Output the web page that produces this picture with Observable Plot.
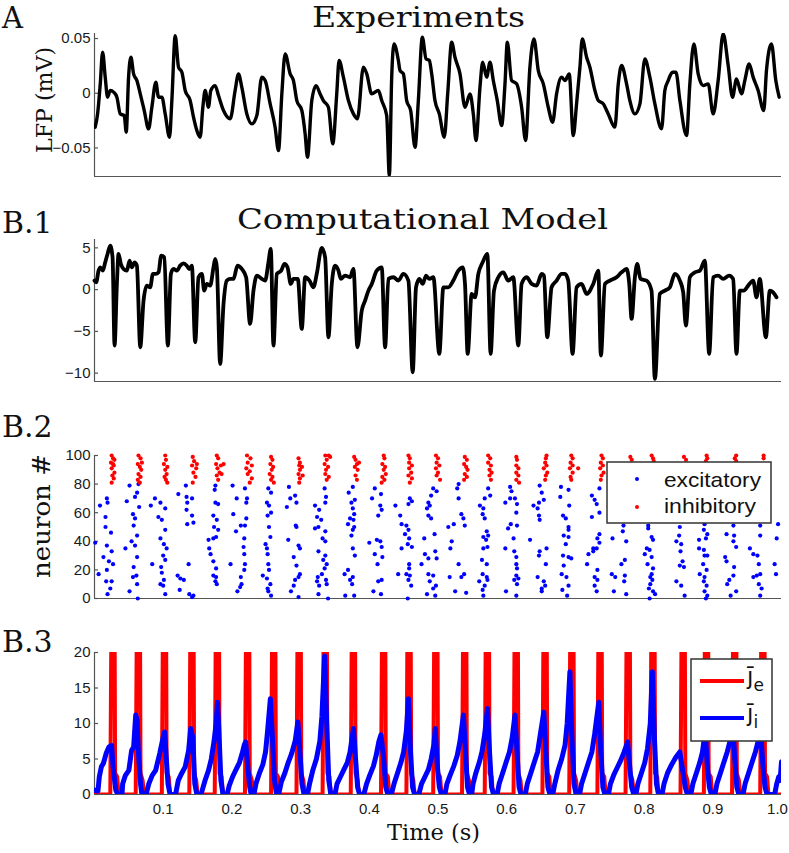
<!DOCTYPE html>
<html><head><meta charset="utf-8">
<script src="https://cdn.jsdelivr.net/npm/d3@7"></script>
<script src="https://cdn.jsdelivr.net/npm/@observablehq/plot@0.6"></script>
<style>
html,body{margin:0;padding:0;background:#fff;}
#fig{position:relative;width:789px;height:853px;overflow:hidden;background:#fff;}
#fig svg{display:block;}
.pane{position:absolute;left:0;}
#overlay{position:absolute;left:0;top:0;z-index:10;pointer-events:none;}
</style></head>
<body><div id="fig"></div>
<script>
// ---------------- DATA ----------------
// Panel A: experimental LFP (time s, mV)
const lfpTrace = [[0.001,-0.031],[0.0045,-0.019],[0.0084,0.0086],[0.0118,0.0375],[0.0156,0.0147],[0.019,-0.0036],[0.0229,0.0025],[0.0278,0.001],[0.0326,-0.0036],[0.0375,-0.0189],[0.0433,-0.0204],[0.0462,-0.0356],[0.0496,0.0147],[0.053,0.0329],[0.0569,0.0177],[0.0617,0.0116],[0.0666,-0.0006],[0.0724,-0.0158],[0.0787,-0.0326],[0.0835,-0.0128],[0.0893,0.0101],[0.0932,-0.0036],[0.0981,-0.0036],[0.1029,-0.0189],[0.1092,-0.0402],[0.1126,-0.0067],[0.1175,0.0527],[0.1223,0.0238],[0.1272,0.0192],[0.132,0.0025],[0.1393,-0.0067],[0.1441,-0.0219],[0.149,-0.0341],[0.1538,-0.0402],[0.1577,-0.0128],[0.1611,0.0025],[0.1659,-0.0128],[0.1693,0.0025],[0.1756,0.007],[0.1805,-0.0021],[0.1878,-0.0158],[0.1975,-0.0234],[0.2047,0.0025],[0.2096,0.0177],[0.2144,0.0055],[0.2217,-0.0189],[0.229,-0.028],[0.2363,-0.0204],[0.2435,0.0147],[0.2484,0.0116],[0.2557,-0.0097],[0.2629,-0.031],[0.2678,-0.0524],[0.2727,-0.0006],[0.2775,0.036],[0.2848,0.0177],[0.2896,0.0116],[0.2945,-0.0067],[0.3018,-0.0158],[0.3066,-0.0371],[0.31,-0.0585],[0.3163,-0.0067],[0.3226,0.007],[0.3284,-0.0006],[0.3332,-0.0067],[0.3405,-0.0128],[0.3468,-0.0463],[0.3526,-0.0006],[0.356,0.0299],[0.3623,0.0147],[0.3696,-0.0067],[0.3769,-0.0189],[0.3827,-0.0234],[0.3914,0.0238],[0.3963,0.0177],[0.4035,-0.0006],[0.4132,0.0025],[0.4181,-0.0067],[0.4253,-0.0204],[0.4292,-0.0752],[0.4326,0.0147],[0.436,0.0451],[0.4423,0.0299],[0.4447,0.0207],[0.4496,0.0177],[0.4544,-0.0067],[0.4602,-0.0158],[0.4666,-0.0493],[0.4714,-0.0067],[0.4772,0.0512],[0.4826,0.0314],[0.4874,0.0299],[0.4908,0.0177],[0.4956,-0.0067],[0.5019,-0.0189],[0.5092,-0.0402],[0.5141,-0.0006],[0.5199,0.0466],[0.5247,0.0329],[0.532,0.0177],[0.5393,-0.0128],[0.5466,-0.0006],[0.5514,-0.0189],[0.5553,-0.0432],[0.5611,0.0055],[0.565,0.0284],[0.5708,0.0147],[0.5757,0.0284],[0.5805,0.0116],[0.5863,-0.0067],[0.5926,-0.0295],[0.5975,0.0086],[0.6009,0.0466],[0.6071,0.0116],[0.6144,0.0086],[0.6217,-0.0128],[0.6275,-0.0432],[0.6338,0.0238],[0.6397,0.0497],[0.646,0.0207],[0.6533,0.0086],[0.6605,-0.0128],[0.6668,-0.0265],[0.6726,-0.0006],[0.6799,0.0147],[0.6848,0.0116],[0.691,0.0177],[0.6969,-0.0387],[0.7017,-0.0097],[0.7066,0.0238],[0.71,0.0497],[0.7163,0.0329],[0.7211,0.0238],[0.7284,0.0025],[0.7333,-0.0067],[0.7405,-0.0097],[0.7478,-0.0189],[0.7575,-0.031],[0.7624,0.0086],[0.7672,0.0253],[0.7745,0.0086],[0.7793,-0.0067],[0.7866,-0.0189],[0.7939,-0.0097],[0.8011,0.0314],[0.8084,0.0147],[0.8157,-0.0097],[0.8254,-0.0326],[0.8302,0.0025],[0.8351,0.0116],[0.8414,0.0192],[0.8463,0.0192],[0.8521,-0.0067],[0.8618,-0.0387],[0.8666,0.0086],[0.8724,0.0451],[0.8787,0.0177],[0.886,0.007],[0.8933,0.0086],[0.9005,-0.0189],[0.9078,0.0116],[0.9151,0.0543],[0.9224,0.0253],[0.9287,-0.0036],[0.9345,0.0131],[0.9418,-0.0006],[0.9466,0.0116],[0.9529,0.0268],[0.9587,0.0147],[0.966,0.0025],[0.9742,-0.0158],[0.9781,0.0207],[0.9854,0.0451],[0.9917,0.0116],[0.9966,-0.0036]];
const lfpTicks = [-0.05, 0, 0.05];
const lfpDomain = [-0.0761, 0.0546];

// Panel B.1: model LFP (time s, a.u.)
const modelTrace = [[0,1.08],[0.0025,0.88],[0.0059,2.27],[0.0084,2.67],[0.0122,2.27],[0.0156,3.27],[0.019,4.27],[0.0229,5.27],[0.0263,3.87],[0.0292,-6.7],[0.0326,0.68],[0.035,4.27],[0.0384,3.07],[0.0423,2.47],[0.0471,2.27],[0.051,3.47],[0.0544,2.67],[0.0583,3.27],[0.0617,2.87],[0.0666,-6.9],[0.0714,-1.32],[0.0762,0.48],[0.0811,0.28],[0.085,1.88],[0.0893,1.88],[0.0932,2.07],[0.0971,4.07],[0.1015,3.87],[0.1068,-6.7],[0.1112,1.88],[0.115,2.47],[0.1199,2.27],[0.1247,2.87],[0.1296,3.15],[0.1344,2.87],[0.1378,2.47],[0.1417,2.87],[0.1466,-6.3],[0.1514,1.48],[0.1563,1.88],[0.1597,-0.12],[0.1635,0.68],[0.1684,0.48],[0.1732,2.67],[0.1757,3.67],[0.1781,2.67],[0.1829,-8.9],[0.1878,-1.72],[0.1926,1.08],[0.1975,1.28],[0.2023,1.28],[0.2081,2.87],[0.2144,2.47],[0.2207,1.48],[0.2265,-4.11],[0.2314,-0.12],[0.2363,1.68],[0.2435,1.28],[0.2484,1.08],[0.2532,3.27],[0.2566,4.87],[0.2605,-6.7],[0.2654,1.88],[0.2717,2.27],[0.2765,3.07],[0.2809,2.67],[0.2857,0.68],[0.2896,1.28],[0.2959,1.28],[0.3017,-4.71],[0.3066,1.48],[0.3129,1.08],[0.3187,0.28],[0.3235,1.88],[0.3308,4.99],[0.3357,3.87],[0.3405,-5.71],[0.3454,0.68],[0.3502,2.87],[0.3551,2.27],[0.3585,1.28],[0.3648,1.68],[0.372,1.48],[0.3769,2.47],[0.3827,-6.9],[0.389,-2.51],[0.3939,-1.32],[0.3987,-0.12],[0.4036,0.68],[0.4108,2.27],[0.4181,2.67],[0.423,-6.9],[0.4278,1.28],[0.4351,1.48],[0.4423,1.08],[0.4496,1.88],[0.4569,1.08],[0.4632,-9.9],[0.468,0.28],[0.4729,1.28],[0.4777,0.68],[0.4826,1.68],[0.4874,1.28],[0.4932,1.48],[0.5019,-7.7],[0.5078,0.28],[0.515,0.28],[0.5223,1.08],[0.5296,2.27],[0.5359,2.67],[0.5393,0.68],[0.5432,-7.7],[0.549,-0.52],[0.5539,-0.92],[0.5587,1.88],[0.565,3.27],[0.5718,4.27],[0.5766,-7.7],[0.5815,-0.12],[0.5878,1.48],[0.595,2.07],[0.6023,1.08],[0.6096,1.48],[0.6169,-6.7],[0.6217,0.68],[0.629,1.48],[0.6363,0.68],[0.6435,0.48],[0.6508,1.88],[0.6542,1.68],[0.659,-5.71],[0.6653,0.28],[0.6726,1.08],[0.6799,1.88],[0.6848,1.88],[0.6896,1.08],[0.6959,-7.7],[0.7017,0.28],[0.709,0.68],[0.7163,-0.52],[0.726,0.68],[0.7333,2.27],[0.7371,-7.9],[0.743,0.68],[0.7502,1.08],[0.7599,1.48],[0.7672,2.07],[0.7745,2.47],[0.7784,0.68],[0.7818,-3.51],[0.7866,1.48],[0.79,3.07],[0.7948,1.28],[0.8036,1.08],[0.8108,-0.12],[0.8157,-10.69],[0.8229,-0.52],[0.8302,-0.12],[0.8375,0.28],[0.8448,1.88],[0.8521,1.08],[0.8569,-0.32],[0.8608,-4.31],[0.8666,1.48],[0.8739,2.07],[0.8812,2.27],[0.8884,3.47],[0.8947,-7.7],[0.9005,1.48],[0.9078,1.68],[0.9151,1.28],[0.9238,1.68],[0.9296,1.28],[0.9345,-7.7],[0.9393,-0.12],[0.9451,-0.12],[0.9515,0.48],[0.9587,1.08],[0.9636,-0.92],[0.9684,1.28],[0.9772,-5.71],[0.983,-0.12],[0.9878,-0.32],[0.9927,-0.92]];
const modelTicks = [-10, -5, 0, 5];
const modelDomain = [-11, 6];

// Panel B.2: raster (time ms, neuron #)
const excitatorySpikes = [
[1,39],[6,17],[8,65],[16,57],[16,50],[18,70],[19,67],[21,26],[18,20],[17,12],[24,46],[25,33],[27,24],[23,7],[19,3],[25,12],[13,29],[18,37],
[51,79],[47,68],[59,71],[62,74],[65,64],[56,59],[59,56],[57,51],[62,44],[54,40],[45,35],[59,37],[62,29],[57,22],[61,16],[56,15],[62,10],[51,5],[63,0],[64,80],
[88,70],[82,65],[96,67],[103,63],[93,57],[98,55],[103,48],[96,42],[101,38],[105,35],[100,30],[103,27],[97,22],[84,24],[98,18],[101,13],[96,10],[100,9],[103,3],
[122,73],[133,79],[134,71],[135,67],[142,70],[134,62],[142,58],[135,52],[144,53],[137,24],[121,16],[125,14],[130,13],[124,6],[138,3],[142,1],[144,2],
[176,79],[175,76],[176,67],[180,66],[173,58],[178,55],[174,50],[180,48],[177,43],[173,42],[166,41],[167,35],[169,31],[173,26],[177,21],[173,16],[177,15],[176,12],[178,10],
[201,79],[219,77],[207,70],[222,70],[221,67],[202,59],[221,56],[219,51],[213,51],[206,47],[218,42],[217,36],[218,31],[219,24],[198,24],[218,20],[213,15],[214,10],[212,8],[208,5],
[253,77],[257,74],[251,67],[254,65],[257,60],[252,58],[254,50],[256,43],[251,35],[252,31],[253,24],[254,20],[251,14],[256,10],[252,7],[257,2],[245,16],[253,5],[249,38],
[283,78],[292,72],[285,70],[294,67],[280,64],[293,51],[294,50],[282,41],[297,37],[299,35],[290,29],[294,23],[299,17],[297,15],[292,13],[290,9],[286,5],[297,1],
[335,77],[337,71],[336,67],[321,65],[327,62],[324,57],[330,55],[326,50],[321,49],[336,47],[332,42],[336,40],[326,33],[336,30],[333,27],[338,24],[335,21],[325,15],[331,17],[327,9],[338,10],[340,0],[326,3],[324,12],[337,13],
[376,78],[370,74],[374,67],[379,69],[376,63],[378,59],[372,56],[377,55],[369,52],[378,50],[376,48],[374,44],[376,35],[379,30],[369,20],[364,17],[376,15],[372,13],[375,10],[365,2],[378,2],
[408,77],[404,70],[417,73],[416,65],[418,62],[413,58],[411,41],[416,40],[400,39],[418,36],[408,31],[419,29],[412,24],[413,12],[418,13],[417,3],[406,5],
[438,65],[459,70],[462,68],[457,66],[445,58],[447,52],[454,51],[457,48],[452,45],[458,42],[456,38],[447,35],[462,36],[458,24],[458,21],[454,17],[459,16],[457,13],[461,9],[442,17],[456,0],
[493,77],[498,75],[490,72],[486,67],[488,65],[484,63],[486,58],[490,56],[495,45],[480,42],[481,31],[486,28],[496,33],[498,28],[476,24],[486,17],[493,16],[488,12],[497,9],[493,7],[484,3],[496,2],
[528,77],[530,80],[530,70],[534,59],[537,56],[523,52],[515,50],[539,51],[520,40],[518,35],[530,24],[538,17],[534,15],[517,15],[525,5],[541,4],
[573,77],[568,70],[576,72],[561,65],[566,63],[565,59],[568,56],[571,47],[566,43],[573,44],[570,41],[572,36],[566,35],[564,27],[571,24],[565,17],[571,15],[572,13],[560,12],[568,9],[565,6],[566,2],
[605,78],[607,75],[605,70],[598,67],[612,70],[615,66],[614,60],[606,52],[602,49],[615,51],[610,42],[598,35],[611,33],[614,29],[614,24],[615,21],[614,16],[617,14],[611,13],[615,10],[599,5],[614,2],
[648,79],[651,74],[654,69],[647,67],[639,65],[645,63],[647,58],[648,55],[634,41],[648,33],[658,35],[647,30],[657,24],[645,15],[654,12],[656,9],[651,5],[651,7],
[679,78],[690,76],[678,71],[691,65],[682,58],[686,56],[690,50],[690,48],[683,44],[690,43],[686,38],[682,30],[690,29],[694,28],[680,17],[687,15],[690,9],[681,6],[688,2],[683,23],
[735,77],[724,72],[728,69],[731,66],[735,60],[724,57],[735,45],[732,42],[735,39],[726,35],[731,35],[719,31],[726,33],[717,24],[732,20],[728,15],[732,13],[728,9],[731,5],
[754,42],[753,17],[756,5],[770,51],[769,47],[774,40],[772,27],[767,24],[772,16],[771,12],[774,3],[758,15],[768,58],[772,66],[775,74],[762,62],
[806,51],[806,49],[811,43],[813,41],[801,31],[804,35],[808,34],[811,29],[805,24],[813,21],[811,17],[809,15],[812,13],[809,10],[807,7],[813,5],[816,3],[808,0],[805,60],[810,68],[812,75],
[852,50],[851,44],[847,40],[854,38],[853,33],[856,26],[852,23],[858,22],[847,12],[854,9],[859,2],[850,62],[855,72],
[888,52],[887,48],[892,45],[890,42],[880,41],[880,35],[887,34],[888,30],[892,30],[886,24],[891,20],[881,17],[888,15],[887,12],[891,9],[888,5],[892,2],[890,0],[885,60],[889,70],[891,77],
[930,51],[931,44],[920,45],[930,40],[934,36],[918,29],[920,26],[931,22],[930,16],[924,13],[921,10],[934,5],[926,2],[928,63],[932,72],
[969,51],[969,44],[954,35],[959,31],[965,30],[967,24],[969,17],[964,16],[959,15],[967,10],[971,7],[969,2],[968,60],[972,70],
[995,52],[993,42],[990,24],[992,17]];
const inhibitorySpikes = [
[25,100],[27,98],[24,95],[28,93],[25,91],[29,88],[26,86],[28,84],[25,81],[27,94],[29,97],
[64,100],[67,98],[63,94],[66,92],[68,90],[64,87],[67,85],[63,83],[66,81],[69,95],
[103,100],[104,97],[101,94],[106,92],[103,90],[105,87],[102,85],[104,83],[106,81],
[143,99],[145,96],[142,93],[148,91],[144,88],[147,85],[143,81],[149,94],
[178,100],[180,98],[177,94],[184,93],[179,91],[182,88],[178,86],[185,87],[180,83],[188,94],
[222,100],[227,98],[223,95],[229,93],[221,91],[226,89],[223,87],[229,84],[226,81],
[257,99],[259,97],[256,94],[260,92],[258,90],[255,87],[259,85],[257,83],[261,81],
[297,98],[299,95],[298,93],[302,92],[299,90],[297,87],[303,86],[299,84],[298,81],
[336,100],[341,100],[338,97],[335,94],[340,92],[337,90],[336,87],[341,85],[338,83],[343,99],
[378,99],[380,97],[382,94],[379,92],[383,90],[380,86],[382,83],[385,95],
[421,100],[422,98],[419,94],[423,92],[421,90],[424,87],[419,85],[422,83],[418,81],
[457,100],[459,98],[458,95],[462,93],[458,91],[461,88],[457,86],[462,84],[459,81],
[497,100],[500,98],[498,95],[502,93],[497,91],[500,88],[498,86],[503,83],
[539,99],[542,97],[538,94],[541,92],[543,90],[539,87],[542,85],[538,83],
[573,100],[576,98],[573,95],[577,93],[575,90],[578,88],[575,86],[577,83],
[614,99],[615,97],[614,93],[617,91],[614,88],[617,86],[614,83],[618,81],
[658,100],[657,98],[656,95],[658,93],[654,91],[659,88],[657,86],[656,83],
[694,100],[696,98],[693,95],[696,93],[692,91],[696,88],[693,85],[694,83],[704,91],
[738,100],[740,98],[737,95],[740,93],[736,91],[741,88],[738,86],[737,83],
[780,99],[782,97],[779,94],[781,91],[778,88],[782,85],[780,83],
[811,100],[813,98],[814,96],[812,93],[814,90],[811,87],[815,84],
[858,99],[861,97],[859,93],[860,89],[858,85],
[891,100],[892,98],[890,96],[891,92],[889,88],[892,84],
[934,100],[932,98],[934,96],[933,91],[935,86],
[974,100],[974,98],[973,92],[975,87]];
const neuronTicks = [0, 20, 40, 60, 80, 100];
const neuronDomain = [0, 100];

// Panel B.3: population activity (time ms, value)
const jeTrace = [[0,0],
[23,0],[25,30],[29,30],[30,3],[33,2.5],[35,0],
[60,0],[62,30],[66,30],[67,3],[70,2],[72,0],
[98,0],[100,30],[104,30],[105,3],[108,2.5],[110,0],
[138,0],[140,30],[144,30],[145,3],[148,2],[150,0],
[175,0],[177,30],[181,30],[182,3],[185,2.5],[187,0],
[219,0],[221,30],[225,30],[226,3],[229,2],[231,0],
[257,0],[259,30],[263,30],[264,3],[267,2.5],[269,0],
[294,0],[296,30],[300,30],[301,3],[304,2],[306,0],
[332,0],[334,30],[338,30],[339,3],[342,2.5],[344,0],
[373,0],[375,30],[379,30],[380,3],[383,2],[385,0],
[417,0],[419,30],[423,30],[424,3],[427,2.5],[429,0],
[454,0],[456,30],[460,30],[461,3],[464,2],[466,0],
[493,0],[495,30],[499,30],[500,3],[503,2.5],[505,0],
[535,0],[537,30],[541,30],[542,3],[545,2],[547,0],
[568,0],[570,30],[574,30],[575,3],[578,2.5],[580,0],
[610,0],[612,30],[616,30],[617,3],[620,2],[622,0],
[652,0],[654,30],[658,30],[659,3],[662,2.5],[664,0],
[691,0],[693,30],[697,30],[698,3],[701,2],[703,0],
[732,0],[734,30],[738,30],[739,3],[742,2.5],[744,0],
[773,0],[775,30],[779,30],[780,3],[783,2],[785,0],
[809,0],[811,30],[815,30],[816,3],[819,2.5],[821,0],
[853,0],[855,30],[859,30],[860,3],[863,2],[865,0],
[887,0],[889,30],[893,30],[894,3],[897,2.5],[899,0],
[928,0],[930,30],[934,30],[935,3],[938,2],[940,0],
[969,0],[971,30],[975,30],[976,3],[979,2.5],[981,0],
[1000,0]];
const jiTrace = [[0,0.6],[5,0.5],[7,2.5],[10,3.9],[13,4.4],[17,5.8],[21,6.7],[25,6.9],[27,3.9],[31,0.6],[34,0],
[40,0],[41,1.5],[45,2.7],[50,3.4],[54,6.2],[57,6.7],[60,11.2],[62,10.5],[64,5.8],[67,1.5],[69,0],
[75,0],[79,1.5],[84,2.7],[89,3.4],[95,5.8],[100,8.1],[102,8.8],[104,5.8],[107,1.5],[110,0],
[118,0],[122,2.0],[127,3.0],[132,3.9],[137,6.2],[140,9.3],[143,8.1],[146,1.5],[149,0],
[155,0],[158,1.0],[161,2.0],[166,3.4],[170,5.0],[174,7.5],[177,10],[179,13.0],[181,9],[184,2],[187,0],
[193,0],[196,1.2],[201,2.5],[206,3.5],[211,4.5],[215,5.8],[218,7.0],[220,7.4],[223,4.0],[226,1.0],[228,0],
[232,0],[235,1.5],[240,3.0],[245,4.2],[249,6.0],[252,9.0],[256,13.5],[259,8.0],[262,2.0],[265,0],
[268,0],[272,1.8],[277,3.0],[282,4.5],[287,5.8],[292,7.5],[296,10.2],[299,6.0],[302,1.5],[305,0],
[310,0],[313,1.5],[318,3.5],[323,5.0],[328,7.5],[331,11],[335,19.5],[338,10],[341,2],[344,0],
[350,0],[353,1.5],[358,2.5],[363,3.5],[368,4.5],[372,6.0],[375,8.0],[377,9.3],[380,5.0],[383,1.0],[386,0],
[392,0],[396,1.5],[401,2.8],[406,4.0],[410,5.5],[414,7.5],[417,8.4],[421,5.0],[424,1.0],[427,0],
[432,0],[436,1.5],[441,3.0],[446,4.5],[450,6.0],[454,9.0],[457,13.5],[460,6.0],[463,1.0],[466,0],
[472,0],[476,1.5],[481,2.5],[486,3.5],[490,5.0],[494,7.0],[496,9.3],[499,4.0],[502,1.0],[505,0],
[510,0],[513,1.5],[518,2.8],[523,4.0],[528,5.5],[532,7.5],[537,11.2],[540,6.0],[543,1.0],[546,0],
[549,0],[551,1.5],[555,3.0],[560,4.5],[564,6.0],[568,8.5],[572,12.1],[575,6.0],[578,1.0],[581,0],
[586,0],[589,1.5],[594,3.0],[599,4.5],[604,6.0],[608,8.0],[612,11.2],[615,6.0],[618,1.0],[621,0],
[627,0],[630,1.5],[635,3.0],[640,4.5],[645,6.0],[649,8.5],[654,11.6],[657,6.0],[660,1.0],[663,0],
[667,0],[670,1.5],[675,3.5],[680,5.0],[685,7.0],[688,10.0],[692,17.3],[695,8.0],[698,1.5],[701,0],
[706,0],[709,1.5],[714,3.0],[719,4.5],[724,6.0],[728,8.5],[734,13.0],[737,6.0],[740,1.0],[743,0],
[748,0],[751,1.5],[756,2.8],[761,3.8],[766,4.8],[771,6.0],[776,7.4],[779,4.0],[782,1.0],[785,0],
[788,0],[791,1.5],[796,3.0],[801,4.5],[805,6.5],[809,10],[812,17.3],[815,8.0],[818,1.5],[821,0],
[826,0],[829,1.5],[834,3.0],[840,4.2],[846,5.2],[852,6.0],[856,3.5],[860,1.0],[863,0],
[868,0],[871,1.5],[876,3.0],[881,4.5],[885,6.0],[889,9.0],[892,4.0],[895,1.0],[898,0],
[903,0],[906,1.5],[911,3.0],[916,4.5],[921,6.0],[925,7.5],[929,10.0],[932,5.0],[935,1.0],[938,0],
[944,0],[947,1.5],[952,3.0],[957,4.5],[962,6.0],[966,7.5],[970,8.5],[973,4.0],[976,1.0],[979,0],
[990,0],[993,1.5],[996,2.5],[998,2.0],[1000,4.6]];
const rateTicks = [0, 5, 10, 15, 20];
const rateDomain = [0, 20];
const timeTicks = [0.1, 0.2, 0.3, 0.4, 0.5, 0.6, 0.7, 0.8, 0.9, 1.0];
const timeDomain = [0, 1];

// ---------------- DRAWING ----------------
const fig = document.getElementById("fig");
const AXIS = "#555";
const W = 789, ML = 94, MR = 8, PW = W - ML - MR;
const baseStyle = {fontFamily: "'Liberation Sans', Arial, sans-serif", fontSize: "15px", color: "#1a1a1a", background: "transparent", overflow: "visible"};
const numFmt = d => d === 0 ? "0" : d3.format("~g")(d);

function place(svg, top) {
  const d = document.createElement("div");
  d.className = "pane";
  d.style.top = top + "px";
  d.appendChild(svg);
  fig.appendChild(d);
  return svg;
}
function frameMarks(ticks, domain) {
  return [
    Plot.ruleX([timeDomain[0]], {stroke: AXIS, strokeWidth: 1.2}),
    Plot.ruleY([domain[0]], {stroke: AXIS, strokeWidth: 1.2}),
    Plot.tickY(ticks, {y: d => d, insetRight: PW - 4, stroke: AXIS, strokeWidth: 1.2})
  ];
}

// A
place(Plot.plot({
  width: W, height: 152, marginLeft: ML, marginRight: MR, marginTop: 5, marginBottom: 4,
  style: baseStyle,
  x: {domain: timeDomain, axis: null},
  y: {domain: lfpDomain, ticks: lfpTicks, tickFormat: numFmt, tickSize: 0, tickPadding: 4, label: null},
  marks: [
    ...frameMarks(lfpTicks, lfpDomain),
    Plot.line(lfpTrace, {x: d => d[0], y: d => d[1], curve: "monotone-x", stroke: "#000", strokeWidth: 3.4, strokeLinejoin: "round", clip: true})
  ]
}), 28);

// B.1
place(Plot.plot({
  width: W, height: 151, marginLeft: ML, marginRight: MR, marginTop: 5, marginBottom: 4,
  style: baseStyle,
  x: {domain: timeDomain, axis: null},
  y: {domain: modelDomain, ticks: modelTicks, tickFormat: numFmt, tickSize: 0, tickPadding: 4, label: null},
  marks: [
    ...frameMarks(modelTicks, modelDomain),
    Plot.line(modelTrace, {x: d => d[0], y: d => d[1], curve: "monotone-x", stroke: "#000", strokeWidth: 3.8, strokeLinejoin: "round"})
  ]
}), 234);

// B.2
place(Plot.plot({
  width: W, height: 156, marginLeft: ML, marginRight: MR, marginTop: 7, marginBottom: 6,
  style: baseStyle,
  x: {domain: timeDomain, axis: null},
  y: {domain: neuronDomain, ticks: neuronTicks, tickFormat: numFmt, tickSize: 0, tickPadding: 4, label: null},
  marks: [
    ...frameMarks(neuronTicks, neuronDomain),
    Plot.dot(excitatorySpikes, {x: d => d[0] / 1000, y: d => d[1], r: 2.1, fill: "#0000ff"}),
    Plot.dot(inhibitorySpikes, {x: d => d[0] / 1000, y: d => d[1], r: 2.1, fill: "#ff0000"})
  ]
}), 448);

// B.3
const svgB3 = place(Plot.plot({
  width: W, height: 173, marginLeft: ML, marginRight: MR, marginTop: 7, marginBottom: 24,
  style: baseStyle,
  x: {domain: timeDomain, ticks: timeTicks, tickFormat: d3.format(".1f"), tickSize: 0, tickPadding: 9, label: null},
  y: {domain: rateDomain, ticks: rateTicks, tickFormat: numFmt, tickSize: 0, tickPadding: 4, label: null},
  marks: [
    ...frameMarks(rateTicks, rateDomain),
    Plot.line(jeTrace, {x: d => d[0] / 1000, y: d => d[1], stroke: "#ff0000", strokeWidth: 4, clip: true}),
    Plot.line(jiTrace, {x: d => d[0] / 1000, y: d => d[1], stroke: "#0000ff", strokeWidth: 5, strokeLinejoin: "round", clip: true})
  ]
}), 645);
// keep the last tick label ("1.0") inside the page edge
svgB3.querySelectorAll("text").forEach(t => { if (t.textContent === "1.0") t.setAttribute("dx", "-4"); });

// Overlay: panel letters, titles, axis labels, legends
const serif = "'DejaVu Serif', serif";
const sans = "'Liberation Sans', Arial, sans-serif";
const ov = document.createElementNS("http://www.w3.org/2000/svg", "svg");
ov.setAttribute("id", "overlay");
ov.setAttribute("width", W);
ov.setAttribute("height", 853);
ov.innerHTML = `
<g fill="#111" font-family="${serif}">
  <text x="2" y="28" font-size="29">A</text>
  <text x="312" y="27" font-size="27" textLength="213" lengthAdjust="spacingAndGlyphs">Experiments</text>
  <text x="2" y="233" font-size="30">B.1</text>
  <text x="237" y="229" font-size="28" textLength="371" lengthAdjust="spacingAndGlyphs">Computational Model</text>
  <text x="2" y="437" font-size="30">B.2</text>
  <text x="2" y="652" font-size="30">B.3</text>
  <text transform="translate(52,100) rotate(-90)" text-anchor="middle" font-size="22" textLength="106" lengthAdjust="spacingAndGlyphs">LFP (mV)</text>
  <text transform="translate(50,516) rotate(-90)" text-anchor="middle" font-size="25" textLength="124" lengthAdjust="spacingAndGlyphs">neuron #</text>
  <text x="387" y="840" font-size="22" textLength="93" lengthAdjust="spacingAndGlyphs">Time (s)</text>
</g>
<g>
  <rect x="607" y="462" width="164" height="61" fill="#fff" stroke="#333" stroke-width="1.5"/>
  <circle cx="637" cy="479" r="2" fill="#0000ff"/>
  <circle cx="637" cy="507" r="2" fill="#ff0000"/>
  <text x="664" y="487" font-family="${sans}" font-size="21" fill="#111" textLength="97" lengthAdjust="spacingAndGlyphs">excitatory</text>
  <text x="664" y="513" font-family="${sans}" font-size="21" fill="#111" textLength="92" lengthAdjust="spacingAndGlyphs">inhibitory</text>
</g>
<g>
  <rect x="691" y="659" width="81" height="82" fill="#fff" stroke="#333" stroke-width="1.5"/>
  <line x1="700" x2="744" y1="681" y2="681" stroke="#ff0000" stroke-width="4"/>
  <line x1="700" x2="744" y1="718" y2="718" stroke="#0000ff" stroke-width="4"/>
  <text x="747" y="684" font-family="'DejaVu Sans', sans-serif" font-size="23" fill="#111">ȷ̄<tspan font-size="17" dy="7">e</tspan></text>
  <text x="747" y="721" font-family="'DejaVu Sans', sans-serif" font-size="23" fill="#111">ȷ̄<tspan font-size="17" dy="7">i</tspan></text>
</g>`;
fig.appendChild(ov);
</script>
</body></html>
